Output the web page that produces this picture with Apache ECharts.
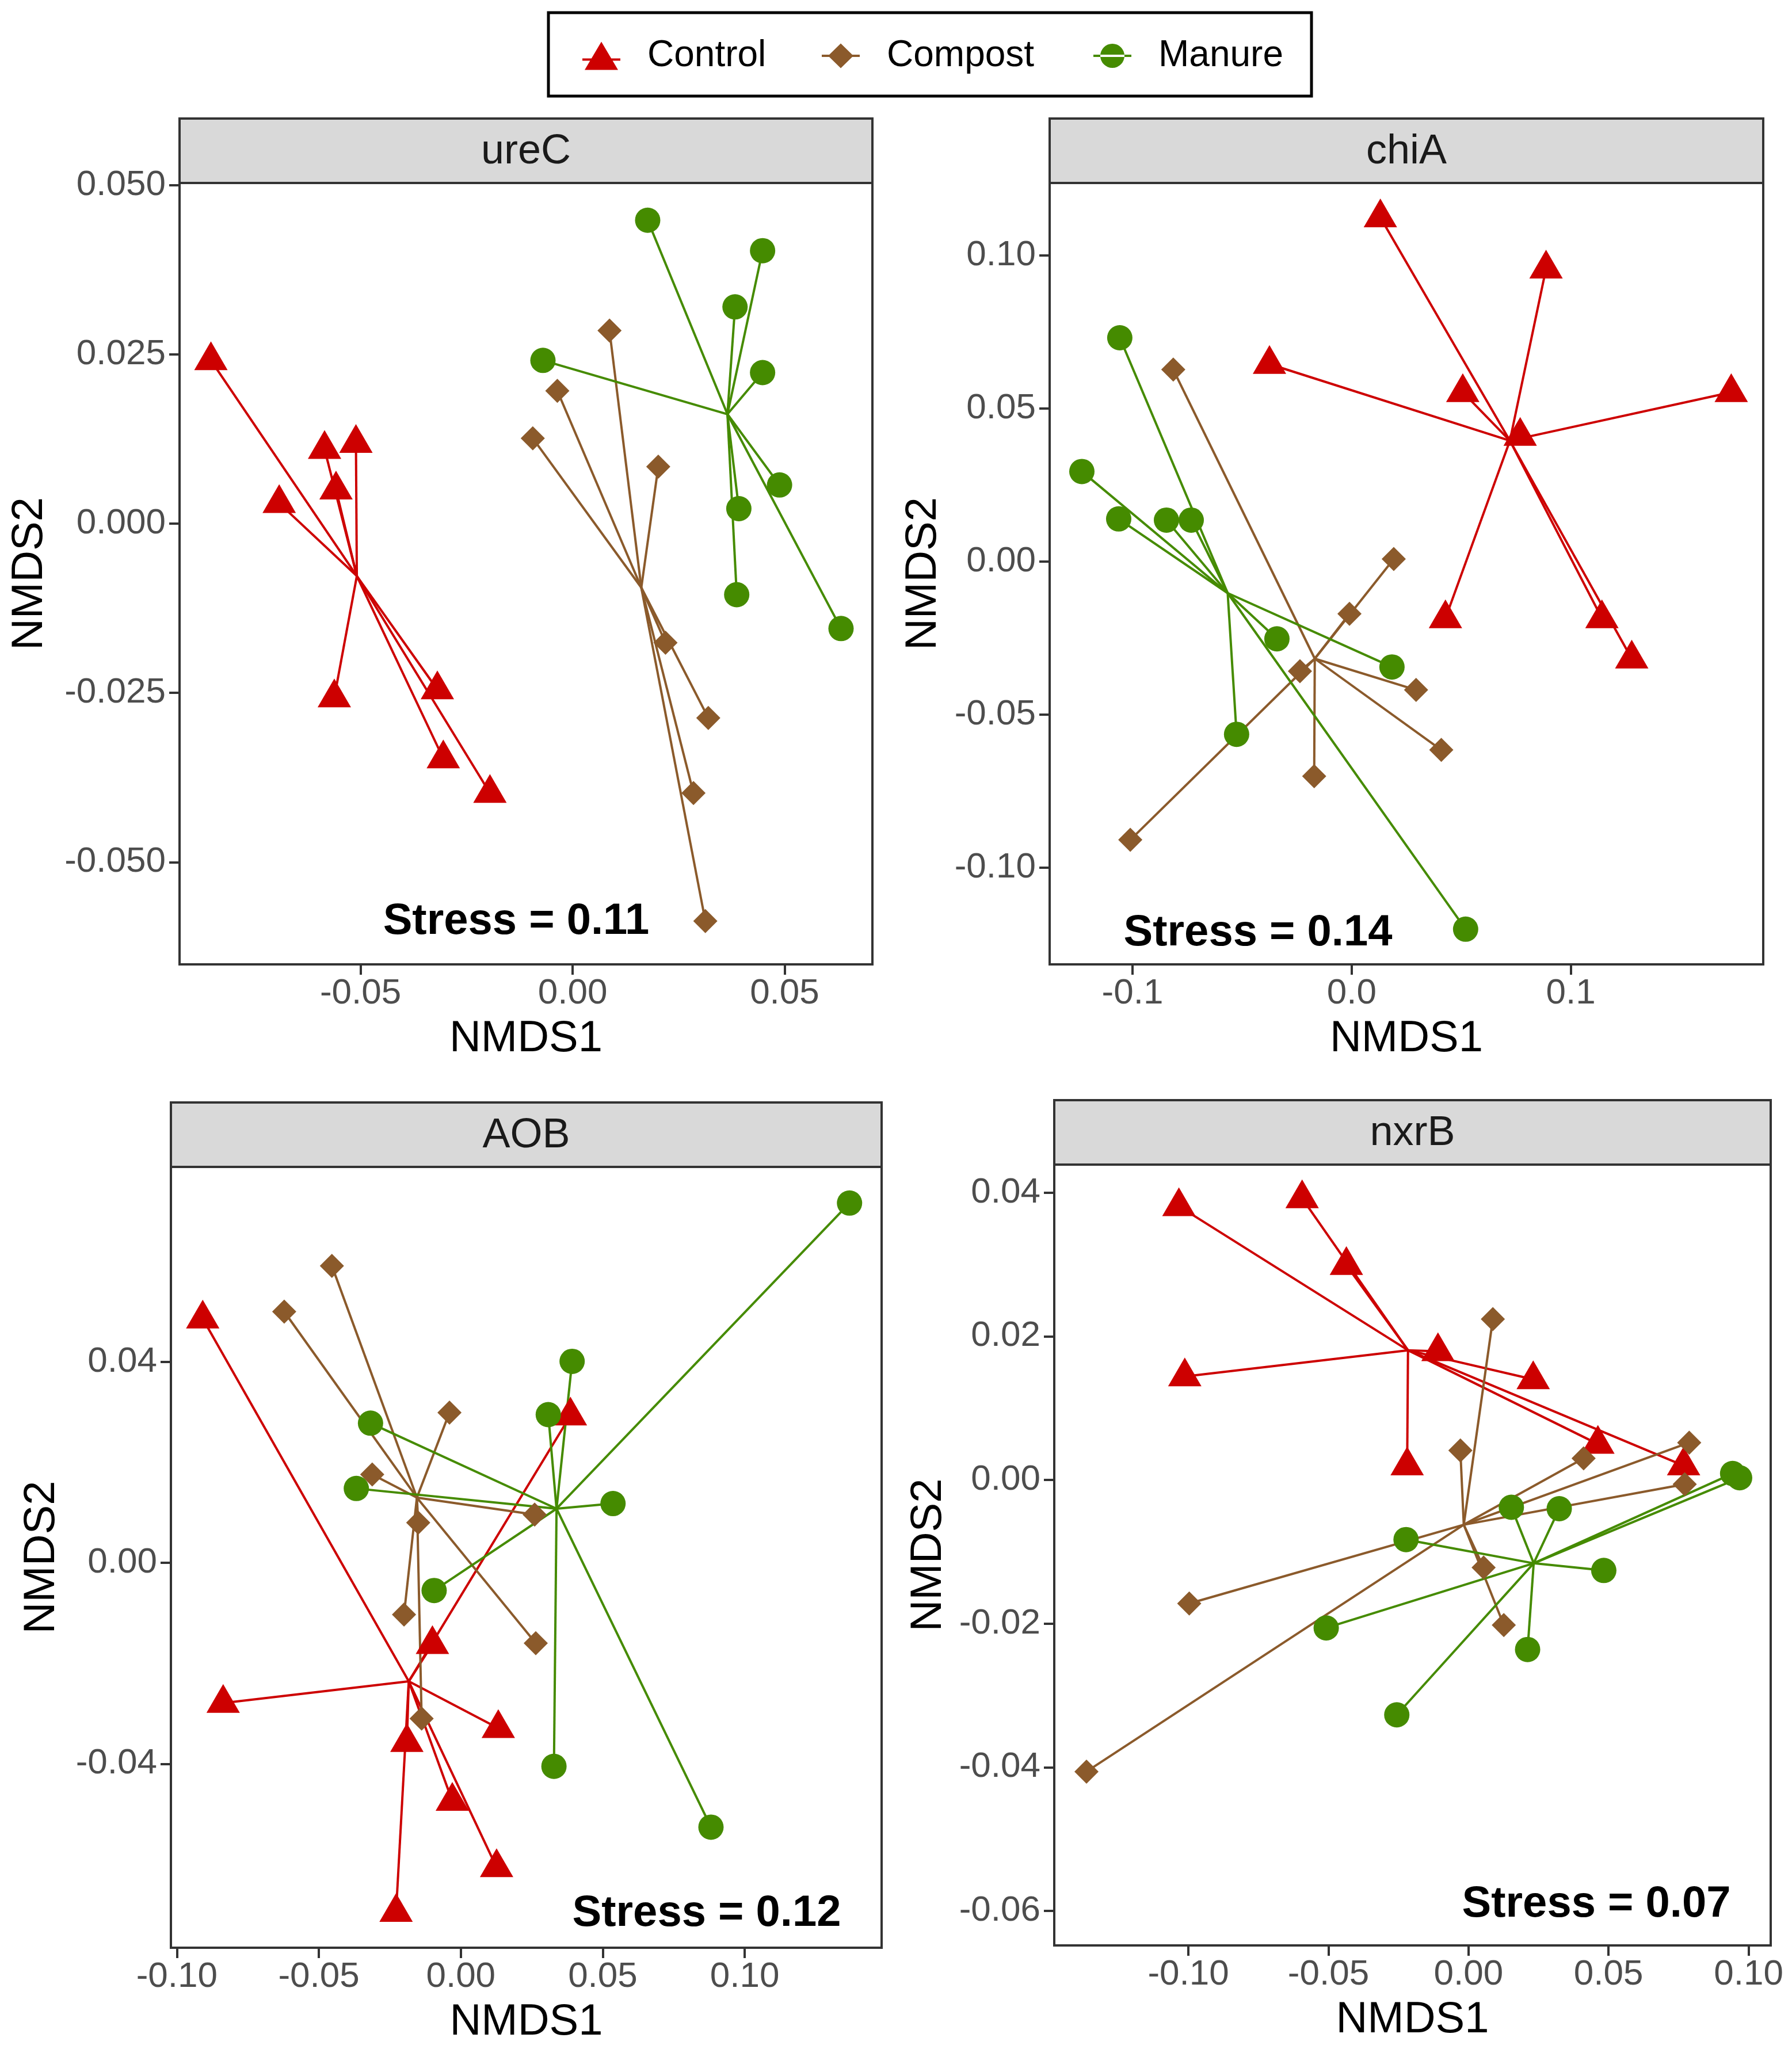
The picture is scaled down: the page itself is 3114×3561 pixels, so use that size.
<!DOCTYPE html>
<html><head><meta charset="utf-8">
<script src="https://cdn.jsdelivr.net/npm/echarts@6/dist/echarts.min.js"></script>
<style>html,body{margin:0;padding:0;background:#fff}#main{width:3114px;height:3561px}</style>
</head><body><div id="main"></div>
<script>
// ---------------- data ----------------
const groups = ['Control', 'Compost', 'Manure'];
const panelNames = ['ureC', 'chiA', 'AOB', 'nxrB'];
const stressLabels = ['Stress = 0.11', 'Stress = 0.14', 'Stress = 0.12', 'Stress = 0.07'];

const ureC_control = [[-0.0853,0.0241],[-0.0585,0.0110],[-0.0511,0.0119],[-0.0692,0.0030],[-0.0558,0.0050],[-0.0562,-0.0257],[-0.0319,-0.0245],[-0.0305,-0.0347],[-0.0195,-0.0398]];
const ureC_compost = [[0.0087,0.0285],[-0.0036,0.0196],[-0.0094,0.0126],[0.0202,0.0084],[0.0219,-0.0176],[0.0320,-0.0287],[0.0285,-0.0398],[0.0313,-0.0587]];
const ureC_manure  = [[0.0177,0.0448],[0.0448,0.0403],[0.0383,0.0320],[-0.0070,0.0241],[0.0448,0.0223],[0.0488,0.0057],[0.0392,0.0022],[0.0387,-0.0105],[0.0633,-0.0155]];

const chiA_control = [[0.0131,0.1124],[0.0887,0.0957],[-0.0375,0.0645],[0.0507,0.0553],[0.1732,0.0553],[0.0769,0.0410],[0.0428,-0.0186],[0.1142,-0.0186],[0.1278,-0.0318]];
const chiA_compost = [[-0.0814,0.0627],[0.0192,0.0008],[-0.0010,-0.0171],[-0.0236,-0.0359],[0.0294,-0.0420],[0.0409,-0.0616],[-0.0171,-0.0702],[-0.1010,-0.0910]];
const chiA_manure  = [[-0.1058,0.0731],[-0.1231,0.0294],[-0.1063,0.0139],[-0.0845,0.0135],[-0.0732,0.0135],[-0.0341,-0.0253],[0.0184,-0.0345],[-0.0525,-0.0565],[0.0520,-0.1202]];

const AOB_control = [[-0.0909,0.0486],[0.0386,0.0293],[-0.0100,-0.0162],[-0.0837,-0.0279],[0.0132,-0.0329],[-0.0190,-0.0357],[-0.0030,-0.0474],[0.0126,-0.0606],[-0.0228,-0.0695]];
const AOB_compost = [[-0.0454,0.0591],[-0.0622,0.0500],[-0.0040,0.0299],[-0.0312,0.0176],[-0.0150,0.0080],[0.0260,0.0096],[-0.0200,-0.0103],[0.0264,-0.0160],[-0.0138,-0.0310]];
const AOB_manure  = [[0.1369,0.0716],[0.0392,0.0401],[0.0308,0.0295],[-0.0318,0.0278],[-0.0368,0.0148],[0.0536,0.0118],[-0.0094,-0.0055],[0.0328,-0.0405],[0.0881,-0.0526]];

const nxrB_control = [[-0.1034,0.0381],[-0.0594,0.0392],[-0.0436,0.0299],[-0.1013,0.0144],[-0.0109,0.0179],[0.0231,0.0140],[-0.0219,0.0020],[0.0462,0.0050],[0.0768,0.0020]];
const nxrB_compost = [[0.0087,0.0224],[-0.0029,0.0041],[0.0788,0.0052],[0.0411,0.0030],[0.0772,-0.0006],[0.0054,-0.0122],[0.0126,-0.0202],[-0.0997,-0.0172],[-0.1364,-0.0406]];
const nxrB_manure  = [[0.0943,0.0009],[0.0968,0.0003],[0.0153,-0.0038],[0.0324,-0.0040],[-0.0223,-0.0083],[0.0483,-0.0126],[-0.0508,-0.0206],[0.0211,-0.0236],[-0.0256,-0.0327]];

const ureC_xTicks = [-0.05, 0, 0.05];
const ureC_yTicks = [-0.05, -0.025, 0, 0.025, 0.05];
const chiA_xTicks = [-0.1, 0, 0.1];
const chiA_yTicks = [-0.1, -0.05, 0, 0.05, 0.1];
const AOB_xTicks = [-0.1, -0.05, 0, 0.05, 0.1];
const AOB_yTicks = [-0.04, 0, 0.04];
const nxrB_xTicks = [-0.1, -0.05, 0, 0.05, 0.1];
const nxrB_yTicks = [-0.06, -0.04, -0.02, 0, 0.02, 0.04];

// ---------------- styling / layout ----------------
const FONT = '"Liberation Sans", Arial, Helvetica, sans-serif';
const colors = { Control: '#CD0000', Compost: '#8B5A2B', Manure: '#458B00' };
const symbols = {
  Control: { symbol: 'triangle', symbolSize: [58, 50], symbolOffset: [0, -8] },
  Compost: { symbol: 'diamond', symbolSize: 42, symbolOffset: [0, 0] },
  Manure:  { symbol: 'circle', symbolSize: 44, symbolOffset: [0, 0] }
};
const legendIcons = {
  Control: 'path://M0 29 L66 29 L66 33 L0 33 Z M33 0 L62 49 L4 49 Z',
  Compost: 'path://M0 22.5 L66 22.5 L66 26.5 L0 26.5 Z M33 3 L55 24.5 L33 46 L11 24.5 Z',
  Manure:  'path://M0 22.5 L66 22.5 L66 26.5 L0 26.5 Z M12 24.5 A21 21 0 1 0 54 24.5 A21 21 0 1 0 12 24.5 Z'
};

const panels = [
  { data: [ureC_control, ureC_compost, ureC_manure], xTicks: ureC_xTicks, yTicks: ureC_yTicks, xDec: 2, yDec: 3,
    xRange: [-0.0927, 0.0707], yRange: [-0.0651, 0.0503],
    box: { left: 312, top: 318, width: 1204, height: 1358 }, yNameGap: 222, stressPos: [897, 1602] },
  { data: [chiA_control, chiA_compost, chiA_manure], xTicks: chiA_xTicks, yTicks: chiA_yTicks, xDec: 1, yDec: 2,
    xRange: [-0.1378, 0.1878], yRange: [-0.1317, 0.1237],
    box: { left: 1824, top: 318, width: 1240, height: 1358 }, yNameGap: 181, stressPos: [2186, 1622] },
  { data: [AOB_control, AOB_compost, AOB_manure], xTicks: AOB_xTicks, yTicks: AOB_yTicks, xDec: 2, yDec: 2,
    xRange: [-0.1021, 0.1482], yRange: [-0.0766, 0.0788],
    box: { left: 297, top: 2028, width: 1235, height: 1357 }, yNameGap: 186, stressPos: [1228, 3326] },
  { data: [nxrB_control, nxrB_compost, nxrB_manure], xTicks: nxrB_xTicks, yTicks: nxrB_yTicks, xDec: 2, yDec: 2,
    xRange: [-0.1479, 0.1079], yRange: [-0.0648, 0.0439],
    box: { left: 1832, top: 2024, width: 1245, height: 1357 }, yNameGap: 180, stressPos: [2774, 3310] }
];

function fmt(v, d) {
  if (Math.abs(v) < 1e-12) return (0).toFixed(d);
  return v.toFixed(d);
}
function centroid(pts) {
  let sx = 0, sy = 0;
  pts.forEach(p => { sx += p[0]; sy += p[1]; });
  return [sx / pts.length, sy / pts.length];
}

const STRIP_H = 112;
const grids = [], xAxes = [], yAxes = [], series = [], graphics = [];

panels.forEach((p, i) => {
  grids.push(Object.assign({ show: true, borderColor: '#333333', borderWidth: 4, backgroundColor: '#ffffff' }, p.box));
  xAxes.push({
    type: 'value', gridIndex: i, min: p.xRange[0], max: p.xRange[1], position: 'bottom',
    name: 'NMDS1', nameLocation: 'middle', nameGap: 92,
    nameTextStyle: { fontSize: 76, color: '#000000', fontFamily: FONT },
    axisLine: { show: false, onZero: false },
    axisTick: { show: true, length: 18, lineStyle: { color: '#333333', width: 4 }, customValues: p.xTicks },
    axisLabel: { customValues: p.xTicks, formatter: v => fmt(v, p.xDec), fontSize: 62, color: '#4D4D4D', margin: 20, fontFamily: FONT },
    splitLine: { show: false }
  });
  yAxes.push({
    type: 'value', gridIndex: i, min: p.yRange[0], max: p.yRange[1], position: 'left',
    name: 'NMDS2', nameLocation: 'middle', nameGap: p.yNameGap,
    nameTextStyle: { fontSize: 76, color: '#000000', fontFamily: FONT },
    axisLine: { show: false, onZero: false },
    axisTick: { show: true, length: 18, lineStyle: { color: '#333333', width: 4 }, customValues: p.yTicks },
    axisLabel: { customValues: p.yTicks, formatter: v => fmt(v, p.yDec), fontSize: 62, color: '#4D4D4D', margin: 24, fontFamily: FONT },
    splitLine: { show: false }
  });
  groups.forEach((g, k) => {
    const pts = p.data[k];
    series.push(Object.assign({
      type: 'scatter', name: g, xAxisIndex: i, yAxisIndex: i, data: pts,
      itemStyle: { color: colors[g], opacity: 1 }, z: 4, silent: true
    }, symbols[g]));
  });
  groups.forEach((g, k) => {
    const pts = p.data[k];
    const c = centroid(pts);
    series.push({
      type: 'lines', name: g, coordinateSystem: 'cartesian2d', xAxisIndex: i, yAxisIndex: i, polyline: false,
      data: pts.map(pt => ({ coords: [c, pt] })),
      lineStyle: { color: colors[g], width: 4, opacity: 1, curveness: 0 },
      z: 2, silent: true
    });
  });
  graphics.push({
    type: 'rect', shape: { x: p.box.left, y: p.box.top - STRIP_H, width: p.box.width, height: STRIP_H },
    style: { fill: '#D9D9D9', stroke: '#333333', lineWidth: 4 }, z: 10
  });
  graphics.push({
    type: 'text', x: p.box.left + p.box.width / 2, y: p.box.top - STRIP_H / 2 + 2,
    style: { text: panelNames[i], fontSize: 72, fontFamily: FONT, fill: '#1A1A1A',
             textAlign: 'center', textVerticalAlign: 'middle', align: 'center', verticalAlign: 'middle' }, z: 11
  });
  graphics.push({
    type: 'text', x: p.stressPos[0], y: p.stressPos[1],
    style: { text: stressLabels[i], fontSize: 76, fontWeight: 'bold', fontFamily: FONT, fill: '#000000',
             textAlign: 'center', textVerticalAlign: 'middle', align: 'center', verticalAlign: 'middle' }, z: 11
  });
});

graphics.push({
  type: 'rect', shape: { x: 953, y: 22, width: 1326, height: 145 },
  style: { fill: 'transparent', stroke: '#000000', lineWidth: 5 }, z: 1
});

const legendLefts = [1012, 1428, 1900];
const legends = groups.map((g, k) => ({
  data: [{ name: g, icon: legendIcons[g], itemStyle: { color: colors[g] } }],
  left: legendLefts[k], top: 65, itemWidth: 66, itemHeight: 49, padding: 0, selectedMode: false,
  textStyle: { fontSize: 64, color: '#000000', fontFamily: FONT, padding: [0, 0, 0, 42] }
}));

const chart = echarts.init(document.getElementById('main'), null, { renderer: 'canvas' });
chart.setOption({
  backgroundColor: '#ffffff',
  animation: false,
  textStyle: { fontFamily: FONT },
  legend: legends,
  grid: grids,
  xAxis: xAxes,
  yAxis: yAxes,
  series: series,
  graphic: graphics
});
</script></body></html>
